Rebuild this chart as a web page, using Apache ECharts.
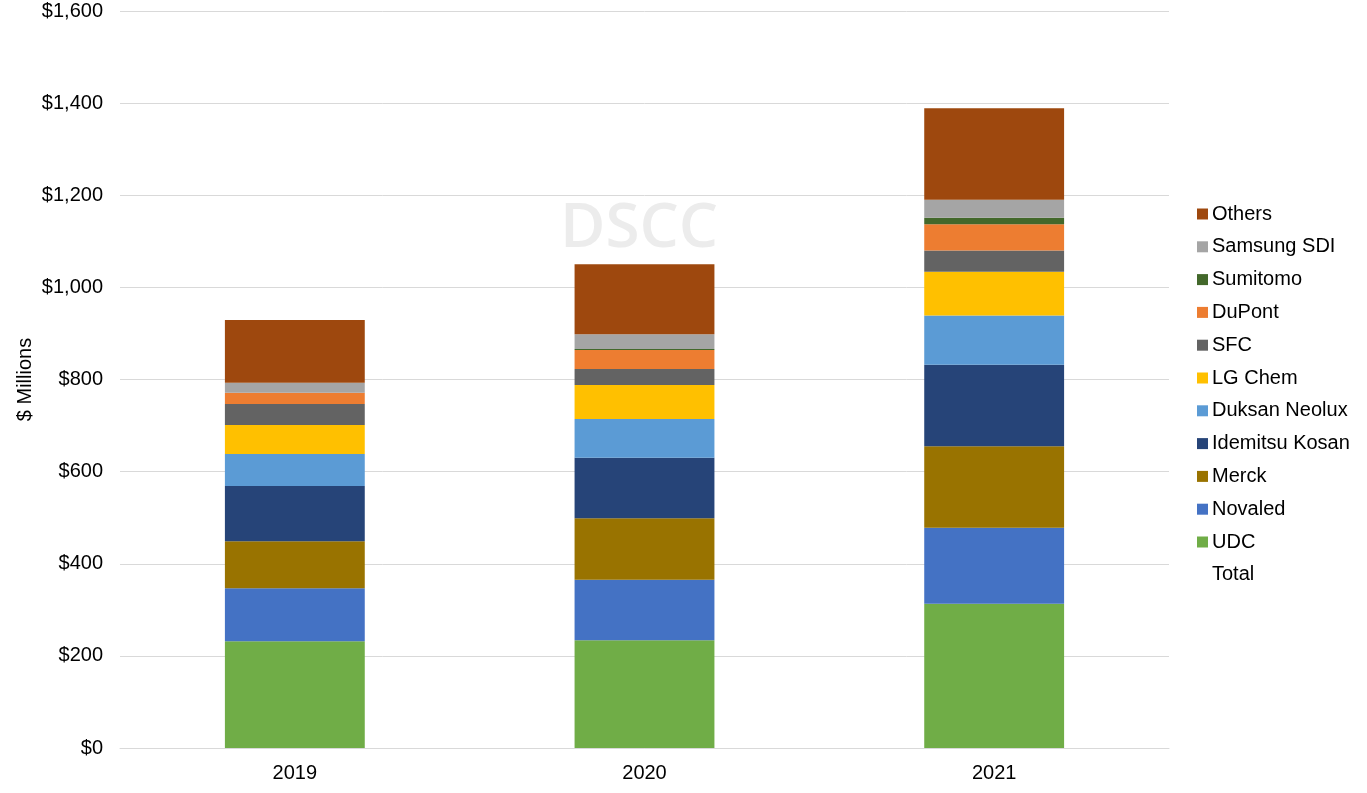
<!DOCTYPE html>
<html><head><meta charset="utf-8">
<script src="https://cdn.jsdelivr.net/npm/echarts@6/dist/echarts.min.js"></script>
<style>html,body{margin:0;padding:0;background:#fff}#c{width:1367px;height:793px}</style>
</head><body><div id="c"></div>
<script>
const years = ['2019', '2020', '2021'];
const udc = [232, 234, 313];
const novaled = [115, 131, 165];
const merck = [102, 134, 177];
const idemitsu = [120, 131, 177];
const duksan = [69, 84, 107];
const lgchem = [63, 74, 95];
const sfc = [46, 35, 46];
const dupont = [24, 41, 57];
const sumitomo = [0, 2, 14];
const samsung = [22, 32, 39];
const others = [136, 152, 199];
const total = [929, 1050, 1389];
const yTicks = [0, 200, 400, 600, 800, 1000, 1200, 1400, 1600];

const seriesDefs = [
  ['UDC', udc, '#70AD47'],
  ['Novaled', novaled, '#4472C4'],
  ['Merck', merck, '#997300'],
  ['Idemitsu Kosan', idemitsu, '#264478'],
  ['Duksan Neolux', duksan, '#5B9BD5'],
  ['LG Chem', lgchem, '#FFC000'],
  ['SFC', sfc, '#636363'],
  ['DuPont', dupont, '#ED7D31'],
  ['Sumitomo', sumitomo, '#43682B'],
  ['Samsung SDI', samsung, '#A5A5A5'],
  ['Others', others, '#9E480E']
];
const font = '"Liberation Sans", Arial, sans-serif';
const series = seriesDefs.map(([n, d, c]) => ({
  name: n, type: 'bar', stack: 'a', data: d, barWidth: '40%',
  itemStyle: { color: c }, emphasis: { disabled: true }
}));
series.push({
  name: 'Total', type: 'line', data: total, symbol: 'none',
  lineStyle: { opacity: 0 }, itemStyle: { color: 'rgba(0,0,0,0)' }, silent: true
});
const legendData = seriesDefs.slice().reverse().map(s => ({ name: s[0], icon: 'rect' }));
legendData.push({ name: 'Total', icon: 'none' });

const chart = echarts.init(document.getElementById('c'), null, { renderer: 'canvas' });
chart.setOption({
  animation: false,
  textStyle: { fontFamily: font },
  grid: { left: 120, right: 198, top: 11, bottom: 45, containLabel: false },
  graphic: [{
    type: 'text', left: 560, top: 198, z: 0,
    style: { text: 'DSCC', fill: '#ececec', font: '600 62px "Open Sans", "DejaVu Sans", sans-serif' }
  }],
  legend: {
    orient: 'vertical', left: 1192, top: 199, itemWidth: 11, itemHeight: 11, itemGap: 12.8,
    itemStyle: { borderWidth: 0 },
    textStyle: { fontSize: 20, color: '#000', fontFamily: font, padding: [0, 0, 0, -1] },
    data: legendData, selectedMode: false
  },
  xAxis: {
    type: 'category', data: years,
    axisLine: { lineStyle: { color: '#d9d9d9' } },
    axisTick: { show: false },
    axisLabel: { fontSize: 20, color: '#000', margin: 15 }
  },
  yAxis: {
    type: 'value', min: 0, max: 1600, interval: 200,
    name: '$ Millions', nameLocation: 'middle', nameRotate: 90, nameGap: 85,
    nameMoveOverlap: false,
    nameTextStyle: { fontSize: 20, color: '#000' },
    axisLine: { show: false }, axisTick: { show: false },
    splitLine: { lineStyle: { color: '#d9d9d9' } },
    axisLabel: {
      fontSize: 20, color: '#000', margin: 17,
      formatter: v => yTicks.includes(v) ? '$' + v.toLocaleString('en-US') : ''
    }
  },
  series: series
});
</script></body></html>
